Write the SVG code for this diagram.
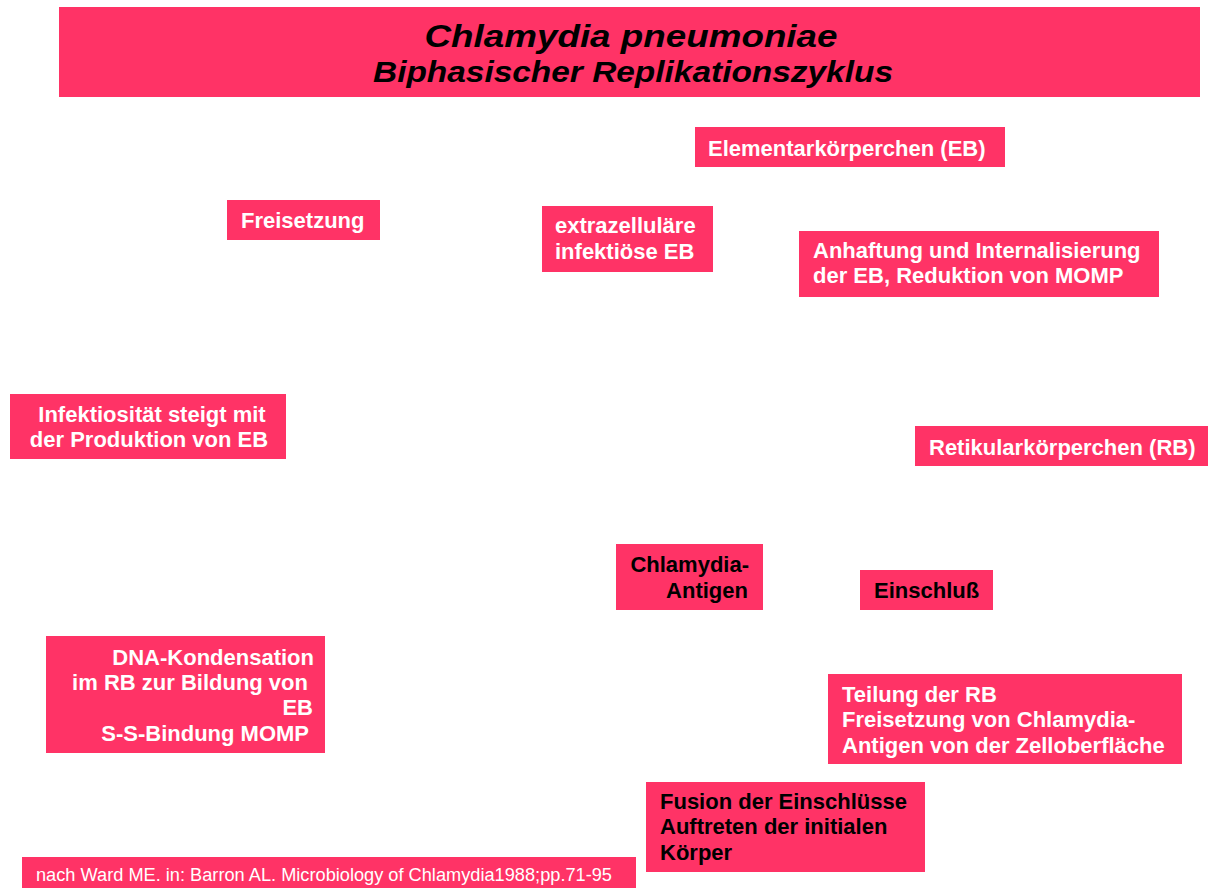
<svg xmlns="http://www.w3.org/2000/svg" width="1208" height="888" viewBox="0 0 1208 888">
<style>
.box{fill:#FF3366}
.t{font-family:"Liberation Sans",Arial,sans-serif;font-weight:bold;font-size:22px;fill:#FFFFFF}
.k{fill:#000000}
.title{font-family:"Liberation Sans",Arial,sans-serif;font-weight:bold;font-style:italic;fill:#000000}
.cite{font-family:"Liberation Sans",Arial,sans-serif;font-size:18px;fill:#FFFFFF}
</style>
<rect width="1208" height="888" fill="#FFFFFF"/>
<g id="title">
<rect class="box" x="59" y="7" width="1141" height="90"/>
<text class="title" x="631" y="47" font-size="32" text-anchor="middle" textLength="413" lengthAdjust="spacingAndGlyphs">Chlamydia pneumoniae</text>
<text class="title" x="633" y="82" font-size="30" text-anchor="middle" textLength="520" lengthAdjust="spacingAndGlyphs">Biphasischer Replikationszyklus</text>
</g>
<g id="eb">
<rect class="box" x="695" y="127" width="310" height="40"/>
<text class="t" x="708" y="156">Elementarkörperchen (EB)</text>
</g>
<g id="freisetzung">
<rect class="box" x="227" y="200" width="153" height="40"/>
<text class="t" x="241" y="228">Freisetzung</text>
</g>
<g id="extrazellulaer">
<rect class="box" x="542" y="206" width="171" height="66"/>
<text class="t" x="555" y="233">extrazelluläre</text>
<text class="t" x="555" y="259">infektiöse EB</text>
</g>
<g id="anhaftung">
<rect class="box" x="799" y="231" width="360" height="66"/>
<text class="t" x="813" y="258">Anhaftung und Internalisierung</text>
<text class="t" x="813" y="283">der EB, Reduktion von MOMP</text>
</g>
<g id="infektiositaet">
<rect class="box" x="10" y="394" width="276" height="65"/>
<text class="t" x="152" y="422" text-anchor="middle">Infektiosität steigt mit</text>
<text class="t" x="149" y="447" text-anchor="middle">der Produktion von EB</text>
</g>
<g id="rb">
<rect class="box" x="915" y="426" width="293" height="40"/>
<text class="t" x="929" y="455">Retikularkörperchen (RB)</text>
</g>
<g id="antigen">
<rect class="box" x="616" y="544" width="147" height="66"/>
<text class="t k" x="749" y="572" text-anchor="end">Chlamydia-</text>
<text class="t k" x="748" y="598" text-anchor="end">Antigen</text>
</g>
<g id="einschluss">
<rect class="box" x="860" y="570" width="133" height="40"/>
<text class="t k" x="874" y="598">Einschluß</text>
</g>
<g id="dna">
<rect class="box" x="46" y="636" width="279" height="117"/>
<text class="t" x="314" y="665" text-anchor="end">DNA-Kondensation</text>
<text class="t" x="308" y="690" text-anchor="end">im RB zur Bildung von</text>
<text class="t" x="313" y="715" text-anchor="end">EB</text>
<text class="t" x="309" y="741" text-anchor="end">S-S-Bindung MOMP</text>
</g>
<g id="teilung">
<rect class="box" x="828" y="674" width="354" height="90"/>
<text class="t" x="842" y="702">Teilung der RB</text>
<text class="t" x="842" y="727">Freisetzung von Chlamydia-</text>
<text class="t" x="842" y="753">Antigen von der Zelloberfläche</text>
</g>
<g id="fusion">
<rect class="box" x="646" y="782" width="279" height="90"/>
<text class="t k" x="660" y="809">Fusion der Einschlüsse</text>
<text class="t k" x="660" y="834">Auftreten der initialen</text>
<text class="t k" x="660" y="860">Körper</text>
</g>
<g id="citation">
<rect class="box" x="22" y="857" width="614" height="31"/>
<text class="cite" x="36" y="881" textLength="576" lengthAdjust="spacingAndGlyphs">nach Ward ME. in: Barron AL. Microbiology of Chlamydia1988;pp.71-95</text>
</g>
<g id="connectors"/>
</svg>
